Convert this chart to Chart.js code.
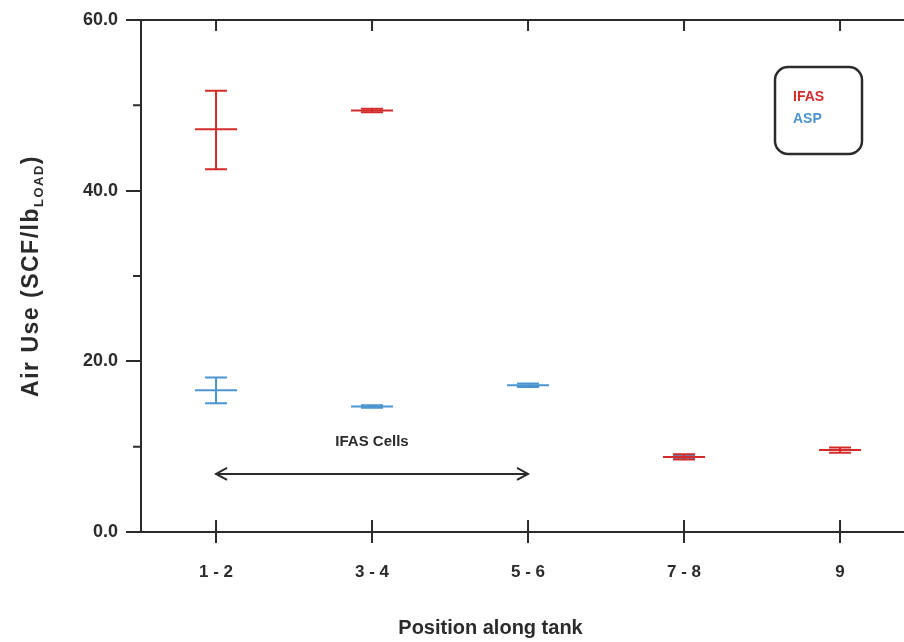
<!DOCTYPE html>
<html>
<head>
<meta charset="utf-8">
<script src="https://cdn.jsdelivr.net/npm/chart.js@4.4.1/dist/chart.umd.min.js"></script>
<style>
  html, body { margin: 0; padding: 0; background: #fff; }
  #wrap { width: 904px; height: 642px; }
</style>
</head>
<body>
<div id="wrap"><canvas id="airChart"></canvas></div>
<script>
// =========================
// データ
// =========================
const categories = ['1 - 2', '3 - 4', '5 - 6', '7 - 8', '9'];

const ifasMean = [47.2, 49.4, null, 8.8, 9.6];
const ifasLow  = [42.5, 49.2, null, 8.5, 9.3];
const ifasHigh = [51.7, 49.6, null, 9.1, 9.9];

const aspMean = [16.6, 14.7, 17.2, 8.8, null];
const aspLow  = [15.1, 14.55, 17.0, 8.6, null];
const aspHigh = [18.1, 14.85, 17.4, 9.0, null];

const yTicks = [0, 20, 40, 60];
const yMinorTicks = [10, 30, 50];

// 矢印の注釈（IFAS Cells：1-2 から 5-6 まで）
const cellsFrom = 1, cellsTo = 3, cellsY = 6.8, cellsLabelY = 10.6;

const RED = '#d42b2b';
const BLUE = '#4c95cf';
const INK = '#2b2b2b';
const FONT = '"Liberation Sans", Arial, sans-serif';

function toPoints(means) {
  return means.map((m, i) => ({ x: i + 1, y: m }));
}

// =========================
// エラーバー・軸装飾・凡例を描くプラグイン
// =========================
const errorBars = { 0: [ifasLow, ifasHigh], 1: [aspLow, aspHigh] };

const decorPlugin = {
  id: 'decor',
  afterDatasetDraw(chart, args) {
    const bars = errorBars[args.index];
    if (!bars) return;
    const ctx = chart.ctx;
    const xs = chart.scales.x, ys = chart.scales.y;
    const color = chart.data.datasets[args.index].borderColor;
    ctx.save();
    ctx.strokeStyle = color;
    ctx.lineWidth = 2;
    bars[0].forEach((lo, i) => {
      const hi = bars[1][i];
      if (lo == null || hi == null) return;
      const px = xs.getPixelForValue(i + 1);
      const pLo = ys.getPixelForValue(lo), pHi = ys.getPixelForValue(hi);
      ctx.beginPath();
      ctx.moveTo(px, pLo); ctx.lineTo(px, pHi);
      ctx.moveTo(px - 11, pLo); ctx.lineTo(px + 11, pLo);
      ctx.moveTo(px - 11, pHi); ctx.lineTo(px + 11, pHi);
      ctx.stroke();
    });
    ctx.restore();
  },
  afterDraw(chart) {
    const ctx = chart.ctx;
    const area = chart.chartArea;
    const xs = chart.scales.x, ys = chart.scales.y;
    ctx.save();
    ctx.strokeStyle = INK;
    ctx.lineWidth = 2;

    // 上枠線
    ctx.beginPath();
    ctx.moveTo(area.left - 15, area.top);
    ctx.lineTo(area.right, area.top);
    ctx.stroke();

    // 副目盛り（Y軸）
    ctx.beginPath();
    yMinorTicks.forEach(v => {
      const py = ys.getPixelForValue(v);
      ctx.moveTo(area.left - 8, py); ctx.lineTo(area.left, py);
    });
    // X軸の内向き目盛り（下と上）
    categories.forEach((c, i) => {
      const px = xs.getPixelForValue(i + 1);
      ctx.moveTo(px, area.bottom); ctx.lineTo(px, area.bottom - 12);
      ctx.moveTo(px, area.top); ctx.lineTo(px, area.top + 11);
    });
    ctx.stroke();

    // IFAS Cells 矢印
    const ax1 = xs.getPixelForValue(cellsFrom), ax2 = xs.getPixelForValue(cellsTo);
    const ay = ys.getPixelForValue(cellsY);
    ctx.beginPath();
    ctx.moveTo(ax1, ay); ctx.lineTo(ax2, ay);
    ctx.moveTo(ax1 + 11, ay - 6); ctx.lineTo(ax1, ay); ctx.lineTo(ax1 + 11, ay + 6);
    ctx.moveTo(ax2 - 11, ay - 6); ctx.lineTo(ax2, ay); ctx.lineTo(ax2 - 11, ay + 6);
    ctx.stroke();
    ctx.fillStyle = INK;
    ctx.font = 'bold 15px ' + FONT;
    ctx.textAlign = 'center';
    ctx.textBaseline = 'middle';
    ctx.fillText('IFAS Cells', xs.getPixelForValue((cellsFrom + cellsTo) / 2), ys.getPixelForValue(cellsLabelY));

    // X軸タイトル
    ctx.font = 'bold 20px ' + FONT;
    ctx.fillText('Position along tank', (area.left + xs.getPixelForValue(categories.length)) / 2, 628);

    // Y軸タイトル（下付き文字あり）
    ctx.translate(30, (area.top + area.bottom) / 2);
    ctx.rotate(-Math.PI / 2);
    ctx.letterSpacing = '1.5px';
    const mainFont = 'bold 23px ' + FONT;
    const subFont = 'bold 13px ' + FONT;
    const part1 = 'Air Use (SCF/lb', sub = 'LOAD', part3 = ')';
    ctx.font = mainFont;
    const w1 = ctx.measureText(part1).width, w3 = ctx.measureText(part3).width;
    ctx.font = subFont;
    const w2 = ctx.measureText(sub).width;
    let tx = -(w1 + w2 + w3) / 2;
    ctx.textAlign = 'left';
    ctx.textBaseline = 'alphabetic';
    ctx.font = mainFont;
    ctx.fillText(part1, tx, 8);
    tx += w1;
    ctx.font = subFont;
    ctx.fillText(sub, tx, 13);
    tx += w2;
    ctx.font = mainFont;
    ctx.fillText(part3, tx, 8);
    ctx.restore();

    // 凡例（角丸の枠）
    ctx.save();
    const bx = area.right - 129, by = area.top + 47, bw = 87, bh = 87;
    ctx.strokeStyle = INK;
    ctx.lineWidth = 2.5;
    ctx.beginPath();
    ctx.roundRect(bx, by, bw, bh, 13);
    ctx.stroke();
    ctx.font = 'bold 14px ' + FONT;
    ctx.textAlign = 'left';
    ctx.textBaseline = 'middle';
    chart.data.datasets.forEach((ds, i) => {
      ctx.fillStyle = ds.borderColor;
      ctx.fillText(ds.label, bx + 18, by + 30 + i * 22);
    });
    ctx.restore();
  }
};

// =========================
// グラフ本体
// =========================
const ctx = document.getElementById('airChart').getContext('2d');
new Chart(ctx, {
  type: 'scatter',
  data: {
    datasets: [
      {
        label: 'IFAS',
        data: toPoints(ifasMean),
        borderColor: RED,
        backgroundColor: RED,
        pointStyle: 'line',
        pointRadius: 21,
        pointBorderWidth: 2
      },
      {
        label: 'ASP',
        data: toPoints(aspMean),
        borderColor: BLUE,
        backgroundColor: BLUE,
        pointStyle: 'line',
        pointRadius: 21,
        pointBorderWidth: 2
      }
    ]
  },
  options: {
    responsive: true,
    maintainAspectRatio: false,
    animation: false,
    layout: { autoPadding: false, padding: { top: 20, left: 0, right: 0, bottom: 0 } },
    plugins: {
      legend: { display: false },
      tooltip: { enabled: false }
    },
    scales: {
      x: {
        type: 'linear',
        min: 0.519,
        max: 5.41,
        afterBuildTicks: scale => {
          scale.ticks = categories.map((c, i) => ({ value: i + 1 }));
        },
        afterFit: scale => { scale.height = 110; },
        ticks: {
          callback: v => categories[v - 1],
          color: INK,
          font: { family: FONT, size: 17, weight: 'bold' },
          padding: 19,
          maxRotation: 0
        },
        grid: { drawOnChartArea: false, tickLength: 11, color: INK, lineWidth: 2 },
        border: { color: INK, width: 2 }
      },
      y: {
        min: 0,
        max: 60,
        afterBuildTicks: scale => {
          scale.ticks = yTicks.map(v => ({ value: v }));
        },
        afterFit: scale => { scale.width = 141; },
        ticks: {
          callback: v => v.toFixed(1),
          color: INK,
          font: { family: FONT, size: 18, weight: 'bold' },
          padding: 8
        },
        grid: { drawOnChartArea: false, tickLength: 15, color: INK, lineWidth: 2 },
        border: { color: INK, width: 2 }
      }
    }
  },
  plugins: [decorPlugin]
});
</script>
</body>
</html>
